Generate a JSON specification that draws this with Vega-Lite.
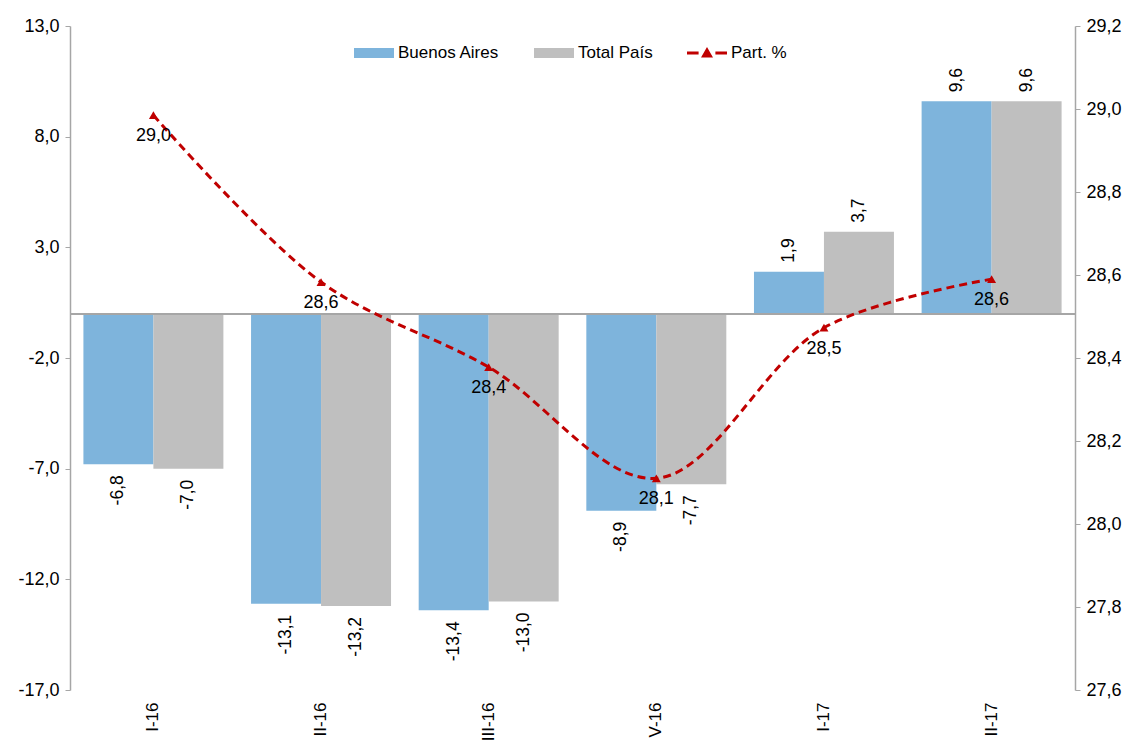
{
  "$schema": "https://vega.github.io/schema/vega-lite/v6.json",
  "width": 1005,
  "height": 664,
  "autosize": {"type": "none"},
  "padding": {"left": 70, "top": 26, "right": 56, "bottom": 52},
  "background": "#ffffff",
  "datasets": {
    "bars": [
      {"q": "I-16", "serie": "Buenos Aires", "v": -6.8},
      {"q": "I-16", "serie": "Total País", "v": -7.0},
      {"q": "II-16", "serie": "Buenos Aires", "v": -13.1},
      {"q": "II-16", "serie": "Total País", "v": -13.2},
      {"q": "III-16", "serie": "Buenos Aires", "v": -13.4},
      {"q": "III-16", "serie": "Total País", "v": -13.0},
      {"q": "V-16", "serie": "Buenos Aires", "v": -8.9},
      {"q": "V-16", "serie": "Total País", "v": -7.7},
      {"q": "I-17", "serie": "Buenos Aires", "v": 1.9},
      {"q": "I-17", "serie": "Total País", "v": 3.7},
      {"q": "II-17", "serie": "Buenos Aires", "v": 9.6},
      {"q": "II-17", "serie": "Total País", "v": 9.6}
    ],
    "part": [
      {"q": "I-16", "part": 28.985},
      {"q": "II-16", "part": 28.583},
      {"q": "III-16", "part": 28.378},
      {"q": "V-16", "part": 28.11},
      {"q": "I-17", "part": 28.473},
      {"q": "II-17", "part": 28.59}
    ]
  },
  "layer": [
    {
      "data": {"name": "bars"},
      "layer": [
        {
          "mark": {"type": "bar"},
          "encoding": {
            "x": {
              "field": "q", "type": "nominal",
              "sort": ["I-16", "II-16", "III-16", "V-16", "I-17", "II-17"],
              "scale": {"paddingInner": 0.165, "paddingOuter": 0.08},
              "axis": {"orient": "bottom", "labelAngle": 270, "domain": false, "ticks": false, "labelPadding": 12, "labelFontSize": 17},
              "title": null
            },
            "xOffset": {"field": "serie", "sort": ["Buenos Aires", "Total País"]},
            "y": {
              "field": "v", "type": "quantitative",
              "scale": {"domain": [-17, 13], "nice": false, "zero": false},
              "axis": {"orient": "left", "values": [-17, -12, -7, -2, 3, 8, 13], "format": ".1f", "domainWidth": 1.5, "tickSize": 5, "labelPadding": 6},
              "title": null
            },
            "color": {
              "field": "serie", "type": "nominal",
              "scale": {"domain": ["Buenos Aires", "Total País", "Part. %"], "range": ["#7EB4DC", "#BFBFBF", "#C00000"]},
              "legend": {
                "orient": "none", "legendX": 284, "legendY": 7, "direction": "horizontal", "title": null,
                "symbolType": "M-1,-0.25H1V0.25H-1Z", "symbolSize": 1600, "symbolStrokeWidth": 0,
                "labelFontSize": 17, "labelFont": "Liberation Sans", "labelColor": "#000000",
                "columnPadding": 34, "labelOffset": 4,
                "encode": {"symbols": {"update": {"shape": {"signal": "datum.label === 'Part. %' ? 'M-1,-0.08H-0.42V0.08H-1Z M-0.3,0.22L0,-0.3L0.3,0.22Z M0.42,-0.08H1V0.08H0.42Z' : 'M-1,-0.25H1V0.25H-1Z'"}}}}
              }
            }
          }
        },
        {"mark": {"type": "rule", "color": "#A6A6A6", "strokeWidth": 1.5}, "encoding": {"y": {"datum": 0}}},
        {
          "transform": [{"filter": "datum.v >= 0"}],
          "mark": {"type": "text", "angle": 270, "align": "left", "baseline": "middle", "dx": 9, "fontSize": 17.5, "font": "Liberation Sans", "color": "#000000"},
          "encoding": {
            "x": {"field": "q", "type": "nominal", "sort": ["I-16", "II-16", "III-16", "V-16", "I-17", "II-17"], "title": null},
            "xOffset": {"field": "serie", "sort": ["Buenos Aires", "Total País"]},
            "y": {"field": "v", "type": "quantitative", "title": null},
            "text": {"field": "v", "type": "quantitative", "format": ".1f"}
          }
        },
        {
          "transform": [{"filter": "datum.v < 0"}],
          "mark": {"type": "text", "angle": 270, "align": "right", "baseline": "middle", "dx": -11, "fontSize": 17.5, "font": "Liberation Sans", "color": "#000000"},
          "encoding": {
            "x": {"field": "q", "type": "nominal", "sort": ["I-16", "II-16", "III-16", "V-16", "I-17", "II-17"], "title": null},
            "xOffset": {"field": "serie", "sort": ["Buenos Aires", "Total País"]},
            "y": {"field": "v", "type": "quantitative", "title": null},
            "text": {"field": "v", "type": "quantitative", "format": ".1f"}
          }
        }
      ]
    },
    {
      "data": {"name": "part"},
      "layer": [
        {
          "mark": {"type": "line", "color": "#C00000", "strokeWidth": 3, "strokeDash": [8, 5], "interpolate": "catmull-rom"},
          "encoding": {
            "x": {"field": "q", "type": "nominal", "sort": ["I-16", "II-16", "III-16", "V-16", "I-17", "II-17"], "title": null},
            "y": {
              "field": "part", "type": "quantitative",
              "scale": {"domain": [27.6, 29.2], "nice": false, "zero": false},
              "axis": {"orient": "right", "values": [27.6, 27.8, 28.0, 28.2, 28.4, 28.6, 28.8, 29.0, 29.2], "format": ".1f", "domainWidth": 1.5, "tickSize": 5, "labelPadding": 6},
              "title": null
            }
          }
        },
        {
          "mark": {"type": "point", "shape": "triangle-up", "filled": true, "color": "#C00000", "size": 80, "opacity": 1},
          "encoding": {
            "x": {"field": "q", "type": "nominal", "sort": ["I-16", "II-16", "III-16", "V-16", "I-17", "II-17"], "title": null},
            "y": {"field": "part", "type": "quantitative", "title": null}
          }
        },
        {
          "mark": {"type": "text", "align": "center", "baseline": "middle", "dy": 21, "fontSize": 18, "font": "Liberation Sans", "color": "#000000"},
          "encoding": {
            "x": {"field": "q", "type": "nominal", "sort": ["I-16", "II-16", "III-16", "V-16", "I-17", "II-17"], "title": null},
            "y": {"field": "part", "type": "quantitative", "title": null},
            "text": {"field": "part", "type": "quantitative", "format": ".1f"}
          }
        }
      ]
    }
  ],
  "resolve": {"scale": {"y": "independent"}},
  "config": {
    "view": {"stroke": null},
    "font": "Liberation Sans",
    "locale": {"number": {"decimal": ",", "thousands": ".", "grouping": [3], "currency": ["$", ""], "minus": "-"}},
    "axis": {"labelFont": "Liberation Sans", "labelFontSize": 18, "labelColor": "#000000", "domainColor": "#A6A6A6", "tickColor": "#A6A6A6", "grid": false}
  }
}
